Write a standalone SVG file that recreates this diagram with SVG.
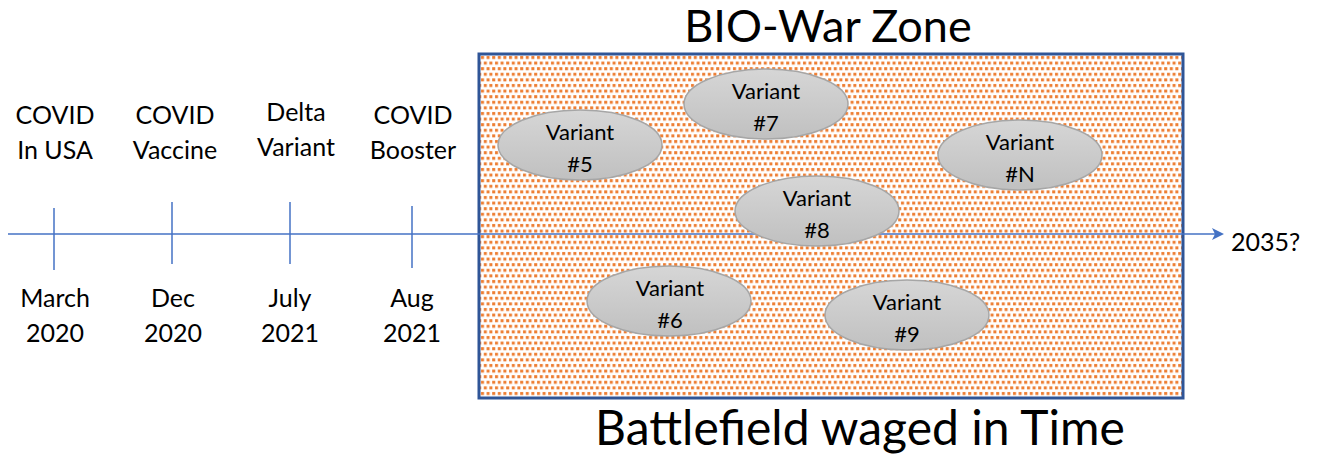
<svg xmlns="http://www.w3.org/2000/svg" width="1321" height="458" viewBox="0 0 1321 458">
<style>
text{font-family:Lato,"Open Sans","Liberation Sans",sans-serif;fill:#000}
.t{font-size:25px;text-anchor:middle}
.v{font-size:22px;text-anchor:middle}
.el{fill:url(#g);stroke:#a6a6a6;stroke-width:1.5}
.ax{stroke:#4472c4;stroke-width:1.5;fill:none}
</style>
<defs>
<pattern id="dots" x="480" y="55" width="5.6" height="11.2" patternUnits="userSpaceOnUse">
<rect width="5.6" height="11.2" fill="#fff"/>
<rect x="1" y="1" width="3" height="3" fill="#ed7d31"/>
<rect x="3.8" y="6.6" width="3" height="3" fill="#ed7d31"/>
<rect x="-1.8" y="6.6" width="3" height="3" fill="#ed7d31"/>
</pattern>
<linearGradient id="g" x1="0" y1="0" x2="0" y2="1">
<stop offset="0" stop-color="#d6d6d6"/>
<stop offset="1" stop-color="#c0c0c0"/>
</linearGradient>
<marker id="arr" markerWidth="12" markerHeight="12" refX="10" refY="6" orient="auto" markerUnits="userSpaceOnUse">
<path d="M0,0 L12,6 L0,12 L3,6 Z" fill="#4472c4"/>
</marker>
</defs>
<g id="zone">
<rect x="479" y="54" width="704" height="344" fill="url(#dots)" stroke="#2f5597" stroke-width="3"/>
<text x="828" y="42" style="font-size:45px;text-anchor:middle">BIO-War Zone</text>
<text x="860" y="445" style="font-size:48px;text-anchor:middle">Battlefield waged in Time</text>
</g>
<g id="connectors">
<line class="ax" x1="8" y1="234" x2="1222" y2="234" marker-end="url(#arr)"/>
<line class="ax" x1="54" y1="208" x2="54" y2="270"/>
<line class="ax" x1="172" y1="202" x2="172" y2="264"/>
<line class="ax" x1="290" y1="202" x2="290" y2="264"/>
<line class="ax" x1="412" y1="206" x2="412" y2="268"/>
</g>
<g id="top-labels">
<text class="t" x="55" y="124">COVID</text><text class="t" x="55" y="159">In USA</text>
<text class="t" x="175" y="124">COVID</text><text class="t" x="175" y="159">Vaccine</text>
<text class="t" x="296" y="121">Delta</text><text class="t" x="296" y="156">Variant</text>
<text class="t" x="413" y="124">COVID</text><text class="t" x="413" y="159">Booster</text>
</g>
<g id="bottom-labels">
<text class="t" x="55" y="307">March</text><text class="t" x="55" y="342">2020</text>
<text class="t" x="173" y="307">Dec</text><text class="t" x="173" y="342">2020</text>
<text class="t" x="290" y="307">July</text><text class="t" x="290" y="342">2021</text>
<text class="t" x="412" y="307">Aug</text><text class="t" x="412" y="342">2021</text>
<text x="1231" y="251" style="font-size:25px">2035?</text>
</g>
<g id="v5"><ellipse class="el" cx="580" cy="145" rx="82" ry="35"/><text class="v" x="580" y="140">Variant</text><text class="v" x="580" y="172">#5</text></g>
<g id="v7"><ellipse class="el" cx="766" cy="104" rx="82" ry="35"/><text class="v" x="766" y="99">Variant</text><text class="v" x="766" y="131">#7</text></g>
<g id="vN"><ellipse class="el" cx="1020" cy="155" rx="82" ry="35"/><text class="v" x="1020" y="150">Variant</text><text class="v" x="1020" y="182">#N</text></g>
<g id="v8"><ellipse class="el" cx="817" cy="211" rx="82" ry="35"/><text class="v" x="817" y="206">Variant</text><text class="v" x="817" y="238">#8</text></g>
<g id="v6"><ellipse class="el" cx="669" cy="301" rx="82" ry="35"/><text class="v" x="670" y="296">Variant</text><text class="v" x="670" y="328">#6</text></g>
<g id="v9"><ellipse class="el" cx="907" cy="315" rx="82" ry="35"/><text class="v" x="907" y="310">Variant</text><text class="v" x="907" y="342">#9</text></g>
</svg>
